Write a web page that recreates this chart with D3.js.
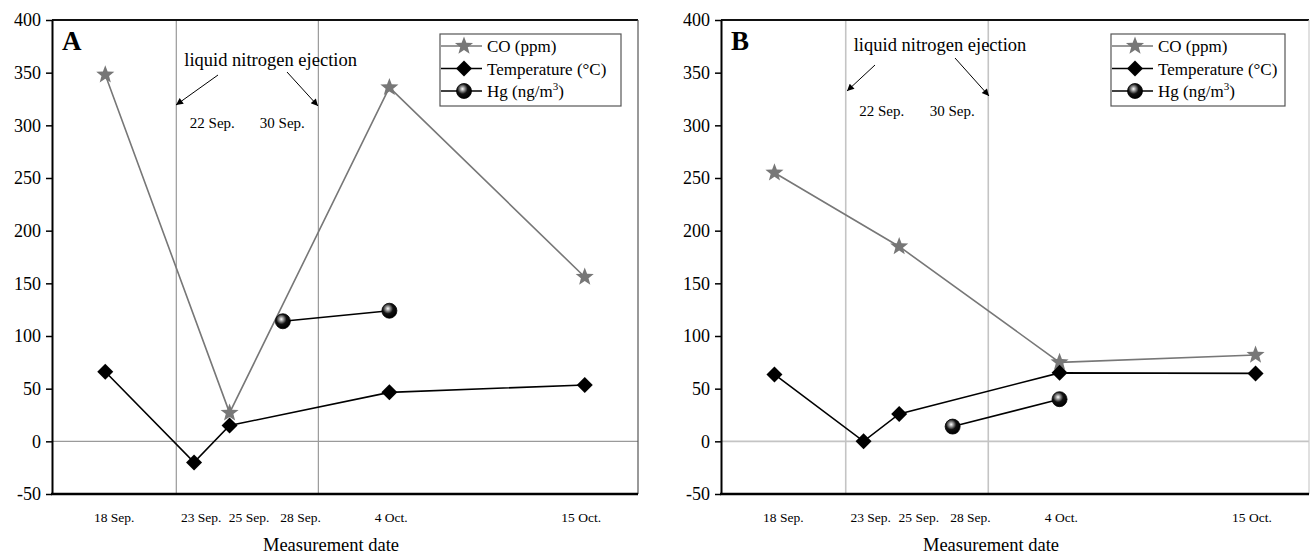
<!DOCTYPE html>
<html>
<head>
<meta charset="utf-8">
<script src="https://cdn.jsdelivr.net/npm/d3@7"></script>
<style>
  html, body { margin: 0; padding: 0; background: #fff; }
  svg { display: block; }
</style>
</head>
<body>
<svg id="chart" width="1310" height="556"></svg>
<script>
// ---------- DATA (day numbers: September d -> d, October d -> 30 + d) ----------
const tickLabels = ["18 Sep.", "23 Sep.", "25 Sep.", "28 Sep.", "4 Oct.", "15 Oct."];
const tickLabelDays = [18.5, 23.4, 26.1, 29.0, 34.1, 44.8];
const yTicks = [-50, 0, 50, 100, 150, 200, 250, 300, 350, 400];

const coDays = [18, 25, 34, 45];
const tempDays = [18, 23, 25, 34, 45];
const hgDays = [28, 34];

const coA = [348, 27, 336, 156];
const tempA = [66, -20, 15, 46.5, 53.5];
const hgA = [114, 124];

const coB = [255, 185, 75, 82];
const tempB = [63.5, 0, 26, 65, 64.5];
const hgB = [14, 40];

const eventDays = [22, 30];
const eventLabels = ["22 Sep.", "30 Sep."];
const seriesNames = ["CO (ppm)", "Temperature (\u00B0C)", "Hg (ng/m"];

// ---------- DRAWING ----------
const FONT = "Liberation Serif";
const svg = d3.select("#chart");
const defs = svg.append("defs");
const grad = defs.append("radialGradient").attr("id", "sphere")
  .attr("cx", "40%").attr("cy", "36%").attr("r", "62%");
grad.append("stop").attr("offset", "0%").attr("stop-color", "#ffffff");
grad.append("stop").attr("offset", "22%").attr("stop-color", "#a0a0a0");
grad.append("stop").attr("offset", "55%").attr("stop-color", "#111");
grad.append("stop").attr("offset", "100%").attr("stop-color", "#000");

function starPath(R) {
  const r = R * 0.42;
  const pts = [];
  for (let i = 0; i < 10; i++) {
    const a = -Math.PI / 2 + i * Math.PI / 5;
    const rr = i % 2 === 0 ? R : r;
    pts.push([rr * Math.cos(a), rr * Math.sin(a)]);
  }
  return "M" + pts.map(p => p[0].toFixed(2) + "," + p[1].toFixed(2)).join("L") + "Z";
}
function diamondPath(h) { return `M0,${-h}L${h},0L0,${h}L${-h},0Z`; }
const CO_COLOR = "#777";

function drawStar(g, x, y, R) {
  g.append("path").attr("d", starPath(R)).attr("transform", `translate(${x},${y})`).attr("fill", CO_COLOR);
}
function drawDiamond(g, x, y, h) {
  g.append("path").attr("d", diamondPath(h)).attr("transform", `translate(${x},${y})`).attr("fill", "#000");
}
function drawSphere(g, x, y, r) {
  g.append("circle").attr("cx", x).attr("cy", y).attr("r", r).attr("fill", "url(#sphere)")
    .attr("stroke", "#000").attr("stroke-width", 0.8);
}
function txt(g, x, y, s, size, anchor) {
  return g.append("text").attr("x", x).attr("y", y).attr("font-family", FONT)
    .attr("font-size", size).attr("text-anchor", anchor || "start").attr("fill", "#000").text(s);
}

function panel(cfg) {
  const g = svg.append("g");
  const x = d3.scaleLinear().domain([15, 48]).range([cfg.left, cfg.right]);
  const y = d3.scaleLinear().domain([-50, 400]).range([cfg.bottom, cfg.top]);

  eventDays.forEach(d => {
    g.append("line").attr("x1", x(d)).attr("x2", x(d)).attr("y1", cfg.top).attr("y2", cfg.bottom)
      .attr("stroke", cfg.gridColor).attr("stroke-width", cfg.gridWidth);
  });
  g.append("line").attr("x1", cfg.left).attr("x2", cfg.right).attr("y1", y(0)).attr("y2", y(0))
    .attr("stroke", cfg.gridColor).attr("stroke-width", cfg.gridWidth);

  g.append("line").attr("x1", cfg.left).attr("x2", cfg.right).attr("y1", cfg.top).attr("y2", cfg.top)
    .attr("stroke", "#111").attr("stroke-width", 2);
  g.append("line").attr("x1", cfg.right).attr("x2", cfg.right).attr("y1", cfg.top).attr("y2", cfg.bottom)
    .attr("stroke", cfg.rightColor).attr("stroke-width", 1.2);

  const yAxis = d3.axisLeft(y).tickValues(yTicks).tickSize(6).tickSizeOuter(0).tickFormat(d => String(d));
  const ya = g.append("g").attr("transform", `translate(${cfg.left},0)`).call(yAxis);
  ya.attr("font-family", FONT).attr("font-size", 18);
  ya.select(".domain").attr("stroke", "#000").attr("stroke-width", 2);
  ya.selectAll(".tick line").attr("stroke", "#000").attr("stroke-width", 1.5);
  ya.selectAll(".tick text").attr("font-family", FONT).attr("font-size", 18)
    .attr("fill", "#000").attr("x", -11);

  g.append("line").attr("x1", cfg.left - 1).attr("x2", cfg.right).attr("y1", cfg.bottom).attr("y2", cfg.bottom)
    .attr("stroke", "#000").attr("stroke-width", 2.5);

  tickLabels.forEach((t, i) => txt(g, x(tickLabelDays[i]), cfg.bottom + 28, t, 13.5, "middle"));
  txt(g, (cfg.left + cfg.right) / 2 + cfg.titleShift, cfg.bottom + 57, "Measurement date", 18.5, "middle");

  txt(g, cfg.left + 10, cfg.top + 30, cfg.letter, 27).attr("font-weight", "bold");

  txt(g, x(22) + 8, cfg.annY, "liquid nitrogen ejection", 18.5);
  const mk = defs.append("marker").attr("id", "arrow" + cfg.letter).attr("viewBox", "0 0 10 10")
    .attr("refX", 10).attr("refY", 5).attr("markerWidth", 11).attr("markerHeight", 7)
    .attr("markerUnits", "userSpaceOnUse").attr("orient", "auto");
  mk.append("path").attr("d", "M0,0L10,5L0,10Z").attr("fill", "#000");
  cfg.arrows.forEach(a => {
    g.append("line").attr("x1", a[0]).attr("y1", a[1]).attr("x2", a[2]).attr("y2", a[3])
      .attr("stroke", "#000").attr("stroke-width", 1).attr("marker-end", `url(#arrow${cfg.letter})`);
  });
  eventLabels.forEach((t, i) => txt(g, x(eventDays[i]) + (i === 0 ? 36 : -36), cfg.evY, t, 15, "middle"));

  const line = d3.line().x(d => x(d[0])).y(d => y(d[1]));
  const co = coDays.map((d, i) => [d, cfg.co[i]]);
  const te = tempDays.map((d, i) => [d, cfg.temp[i]]);
  const hg = hgDays.map((d, i) => [d, cfg.hg[i]]);

  g.append("path").datum(co).attr("d", line).attr("fill", "none").attr("stroke", CO_COLOR).attr("stroke-width", 1.6);
  g.append("path").datum(te).attr("d", line).attr("fill", "none").attr("stroke", "#000").attr("stroke-width", 1.6);
  g.append("path").datum(hg).attr("d", line).attr("fill", "none").attr("stroke", "#000").attr("stroke-width", 1.6);

  co.forEach(p => drawStar(g, x(p[0]), y(p[1]), 9.5));
  te.forEach(p => drawDiamond(g, x(p[0]), y(p[1]), 8));
  hg.forEach(p => drawSphere(g, x(p[0]), y(p[1]), 7.5));

  const lg = g.append("g").attr("transform", `translate(${cfg.legX},34)`);
  lg.append("rect").attr("x", 0).attr("y", 0).attr("width", cfg.legW).attr("height", 72)
    .attr("fill", "#fff").attr("stroke", "#555").attr("stroke-width", 1.2);
  const rows = [12, 34.5, 57];
  rows.forEach((ry, i) => {
    lg.append("line").attr("x1", 1).attr("x2", 42).attr("y1", ry).attr("y2", ry)
      .attr("stroke", i === 0 ? CO_COLOR : "#000").attr("stroke-width", 1.6);
    if (i === 0) drawStar(lg, 24, ry, 9.5);
    if (i === 1) drawDiamond(lg, 24, ry, 8);
    if (i === 2) drawSphere(lg, 24, ry, 7.5);
    const t = txt(lg, 47, ry + 6, seriesNames[i], 17);
    if (i === 2) {
      t.append("tspan").attr("dy", -7).attr("font-size", 11).text("3");
      t.append("tspan").attr("dy", 7).text(")");
    }
  });
}

panel({
  letter: "A", left: 52, right: 638, top: 20, bottom: 494,
  co: coA, temp: tempA, hg: hgA,
  gridColor: "#9a9a9a", gridWidth: 1.2, rightColor: "#555",
  annY: 66, evY: 128, legX: 440, legW: 181, titleShift: -14,
  arrows: [[218, 75, 176, 105], [287, 72, 318, 106]]
});
panel({
  letter: "B", left: 721, right: 1309, top: 20, bottom: 494,
  co: coB, temp: tempB, hg: hgB,
  gridColor: "#c4c4c4", gridWidth: 1.6, rightColor: "#ccc",
  annY: 51, evY: 116, legX: 1111, legW: 174, titleShift: -24,
  arrows: [[875, 65, 847, 91], [955, 58, 989, 96]]
});
</script>
</body>
</html>
